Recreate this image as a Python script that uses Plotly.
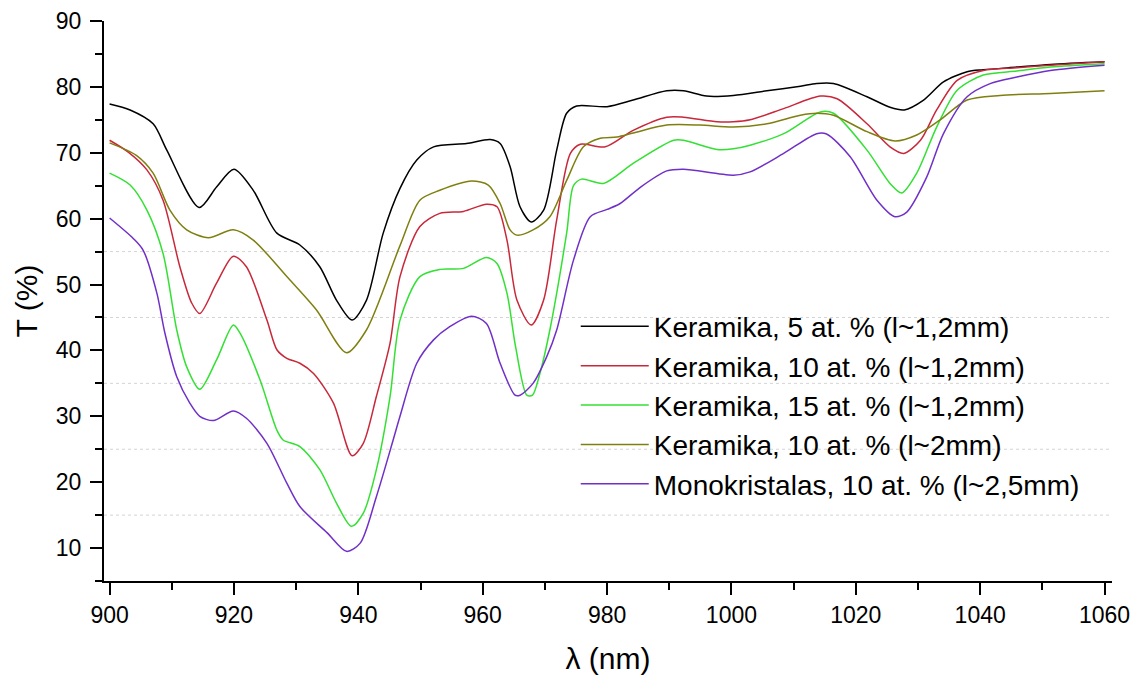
import plotly.graph_objects as go

# ---- data ----
names = [
    "Keramika, 5 at. % (l~1,2mm)",
    "Keramika, 10 at. % (l~1,2mm)",
    "Keramika, 15 at. % (l~1,2mm)",
    "Keramika, 10 at. % (l~2mm)",
    "Monokristalas, 10 at. % (l~2,5mm)",
]
colors = ["#000000", "#C8283A", "#33E033", "#7F7F10", "#7030C8"]

black_x = [900, 903.3, 907, 909.2, 914.4, 917.2, 920, 923.1, 926.9, 930.6, 933.8, 936.5, 939, 941.3, 944, 946.7,
           949.4, 952.1, 957.4, 961.2, 962.8, 964.4, 966, 967.8, 969.8, 971.9, 973.5, 975.1, 980, 984.2, 989.6,
           992.3, 996, 1000.3, 1005.7, 1011.1, 1013.7, 1016.4, 1021.8, 1025.5, 1027.8, 1030.9, 1034.1, 1037.9,
           1040.5, 1045.9, 1051.3, 1060]
black_T = [77.4, 76.5, 74.4, 70.4, 61.7, 64.8, 67.5, 64.3, 57.8, 56.0, 52.7, 47.6, 44.6, 47.6, 57.8, 64.6,
           68.9, 70.9, 71.4, 72.0, 71.4, 67.9, 61.8, 59.5, 61.3, 70.4, 76.0, 77.1, 77.0, 78.0, 79.4,
           79.4, 78.6, 78.7, 79.4, 80.1, 80.5, 80.5, 78.5, 76.9, 76.5, 78.0, 80.75, 82.3,
           82.6, 83.0, 83.4, 83.8]

red_x = [900, 903, 906, 908.6, 911.3, 913.2, 914.5, 917.2, 919.9, 922, 925.3, 926.9, 928.5, 930.6, 932.8, 936,
         939, 940.8, 942.9, 945.1, 946.7, 949.9, 953.1, 956.9, 960.6, 962.3, 963.9, 965.5, 967.8, 969.8, 971.9,
         974.1, 975.7, 979.7, 984.2, 989.6, 992.3, 997.7, 1000.3, 1003, 1008.4, 1014.3, 1017, 1021.8, 1025.5,
         1027.7, 1030.4, 1033, 1036.3, 1040.5, 1045.9, 1051.3, 1060]
red_T = [71.9, 70.1, 67.4, 62.8, 52.7, 47.2, 45.6, 50.2, 54.3, 52.7, 44.6, 40.1, 38.8, 38.05, 36.5, 32.0,
         24.0, 25.9, 33.0, 41.1, 51.2, 58.8, 60.8, 61.1, 62.2, 61.8, 56.75, 47.65, 43.85, 47.65, 59.8,
         69.9, 71.3, 70.9, 73.4, 75.4, 75.4, 74.7, 74.7, 75.0, 76.7, 78.6, 78.2, 74.4, 70.9,
         69.9, 71.9, 76.5, 81.0, 82.5, 82.9, 83.3, 83.8]

green_x = [900, 903.3, 906, 908.6, 910.8, 912.4, 914.5, 917.2, 919.9, 921, 924.2, 926.9, 927.9, 930.6, 933.8,
           936.5, 938.9, 940.8, 942.9, 945.1, 946.7, 949.9, 953.1, 956.9, 960.6, 962.3, 963.9, 965.3, 967.1,
           968, 969.2, 970.8, 973.5, 974.6, 975.9, 979.4, 984.2, 990.7, 992.3, 997.7, 1000.3, 1003, 1008.4,
           1014.3, 1016.4, 1021.8, 1025.5, 1027.4, 1029.8, 1033, 1036.3, 1040.5, 1045.9, 1051.3, 1060]
green_T = [66.9, 65.1, 61.3, 54.7, 43.1, 37.5, 34.1, 38.55, 43.85, 42.6, 35.5, 27.9, 26.4, 25.4, 21.9,
           16.8, 13.3, 15.3, 21.9, 33.0, 44.6, 51.2, 52.3, 52.45, 54.1, 53.2, 48.7, 40.5, 33.2,
           33.2, 36.5, 43.1, 57.8, 65.0, 66.0, 65.35, 68.4, 71.9, 71.9, 70.5, 70.6, 71.15, 72.9,
           76.2, 76.0, 70.4, 65.35, 63.9, 66.9, 73.9, 79.5, 81.8, 82.4, 83.0, 83.5]

olive_x = [900, 904.3, 907, 909.7, 912.4, 915.9, 919.9, 923.1, 928.5, 933.3, 938.1, 941.3, 946.7, 949.9, 953.1,
           958.2, 960.9, 962.8, 964.4, 965.5, 968.1, 970.8, 973.5, 976.2, 978.9, 981.6, 984.2, 989.6, 994.9,
           1000.3, 1005.7, 1011.1, 1013.7, 1016.4, 1021.8, 1026.3, 1029.8, 1033.5, 1037.9, 1043.2, 1051.3, 1060]
olive_T = [71.5, 69.6, 66.9, 61.3, 58.3, 57.1, 58.3, 56.75, 51.2, 46.1, 39.65, 43.1, 55.9, 62.8, 64.3,
           65.7, 65.1, 62.3, 58.3, 57.5, 58.3, 60.3, 65.8, 70.9, 72.2, 72.4, 73.0, 74.2, 74.2,
           73.9, 74.4, 75.7, 76.0, 75.7, 73.2, 71.8, 72.7, 74.95, 78.0, 78.7, 79.0, 79.4]

purple_x = [900, 903.8, 905.4, 907.6, 908.9, 910.8, 912.9, 914.5, 916.7, 919.9, 922, 925.3, 928.5, 930.6, 935,
            938.1, 940.3, 942.9, 945.6, 946.7, 949.4, 952.1, 954.7, 958.2, 960.6, 962.8, 965.2, 966, 968.1,
            970.3, 971.9, 974.6, 977.3, 980, 982.1, 985.4, 989.6, 992.3, 1000.3, 1003, 1008.4, 1013.7, 1015.3,
            1019.1, 1023.4, 1026.3, 1028.2, 1031.4, 1034.1, 1037.9, 1041.6, 1045.9, 1051.3, 1060]
purple_T = [60.1, 57.0, 55.2, 48.7, 42.6, 36.0, 32.0, 30.0, 29.35, 30.8, 29.7, 25.9, 19.85, 16.3, 12.3,
            9.5, 10.75, 17.8, 26.4, 30.0, 38.05, 41.6, 43.6, 45.2, 44.1, 38.05, 33.2, 33.2, 35.0,
            39.05, 43.1, 53.7, 60.3, 61.4, 62.3, 64.8, 67.25, 67.5, 66.6, 67.1, 69.9, 72.9, 72.85,
            69.4, 62.8, 60.3, 61.0, 66.3, 72.9, 78.5, 80.5, 81.5, 82.5, 83.3]

x_ticks = [900, 920, 940, 960, 980, 1000, 1020, 1040, 1060]
y_ticks = [10, 20, 30, 40, 50, 60, 70, 80, 90]
dotted_levels = [15, 25, 35, 45, 55]

series = [(black_x, black_T), (red_x, red_T), (green_x, green_T), (olive_x, olive_T), (purple_x, purple_T)]

FONT = "Liberation Sans, Arial, sans-serif"

fig = go.Figure()
for (xs, ys), nm, col in zip(series, names, colors):
    fig.add_trace(go.Scatter(
        x=xs, y=ys, name=nm, mode="lines",
        line=dict(color=col, width=1.5, shape="spline", smoothing=0.8),
    ))

for lv in dotted_levels:
    fig.add_shape(type="line", xref="x domain", yref="y", x0=0, x1=1, y0=lv, y1=lv,
                  line=dict(color="#D4D4D4", width=1, dash="dot"), layer="below")

axis_common = dict(
    showline=True, linecolor="black", linewidth=2, mirror=False,
    ticks="outside", ticklen=12, tickwidth=2, tickcolor="black",
    showgrid=False, zeroline=False, automargin=False,
    tickfont=dict(family=FONT, size=23, color="black"),
)

fig.update_xaxes(
    range=[899.1, 1061.2], tickvals=x_ticks, ticklabelstandoff=0,
    minor=dict(dtick=10, tick0=900, ticks="outside", ticklen=7, tickwidth=2, tickcolor="black", showgrid=False),
    title=dict(text="λ (nm)", font=dict(family=FONT, size=30, color="black"), standoff=21),
    **axis_common,
)
fig.update_yaxes(
    range=[5, 90], tickvals=y_ticks, ticklabelstandoff=4,
    minor=dict(dtick=5, tick0=5, ticks="outside", ticklen=7, tickwidth=2, tickcolor="black", showgrid=False),
    title=dict(text="T (%)", font=dict(family=FONT, size=30, color="black"), standoff=9),
    **axis_common,
)

# the page body adds an 8px margin, so the figure is 8px smaller and margins shifted
fig.update_layout(
    template="none",
    width=1133, height=669,
    margin=dict(l=96, r=29, t=13, b=96),
    paper_bgcolor="white", plot_bgcolor="white",
    font=dict(family=FONT, color="black"),
    legend=dict(
        x=0.468, y=0.499, xanchor="left", yanchor="top",
        bgcolor="rgba(0,0,0,0)", borderwidth=0,
        font=dict(family=FONT, size=28, color="black"),
        itemwidth=68, tracegroupgap=0,
    ),
    showlegend=True,
)

fig.write_html("out.html")
